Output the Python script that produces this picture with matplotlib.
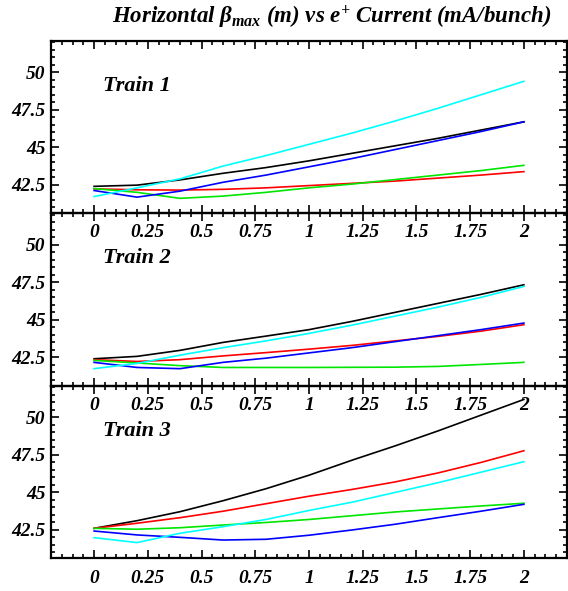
import matplotlib
matplotlib.use("Agg")
import matplotlib.pyplot as plt
from matplotlib.ticker import MultipleLocator, FuncFormatter

# beam current (mA/bunch)
current = [0.0, 0.2, 0.4, 0.6, 0.8, 1.0, 1.2, 1.4, 1.6, 1.8, 2.0]

# horizontal beta max (m) for each train, one list per curve
train1_black = [42.40, 42.48, 42.83, 43.27, 43.65, 44.10, 44.60, 45.10, 45.60, 46.15, 46.70]
train1_red   = [42.23, 42.17, 42.15, 42.20, 42.30, 42.45, 42.60, 42.75, 42.95, 43.15, 43.38]
train1_green = [42.25, 42.00, 41.60, 41.75, 42.00, 42.30, 42.55, 42.85, 43.15, 43.45, 43.80]
train1_blue  = [42.12, 41.68, 42.08, 42.67, 43.15, 43.70, 44.25, 44.85, 45.45, 46.05, 46.70]
train1_cyan  = [41.72, 42.30, 42.90, 43.75, 44.45, 45.20, 45.95, 46.75, 47.60, 48.50, 49.40]

train2_black = [42.41, 42.57, 42.97, 43.50, 43.92, 44.35, 44.90, 45.50, 46.10, 46.70, 47.34]
train2_red   = [42.35, 42.23, 42.35, 42.60, 42.82, 43.05, 43.30, 43.60, 43.90, 44.25, 44.68]
train2_green = [42.30, 42.13, 41.95, 41.83, 41.83, 41.83, 41.84, 41.85, 41.90, 42.03, 42.17]
train2_blue  = [42.17, 41.83, 41.75, 42.17, 42.45, 42.80, 43.15, 43.55, 43.95, 44.35, 44.79]
train2_cyan  = [41.75, 42.10, 42.65, 43.15, 43.60, 44.10, 44.65, 45.25, 45.85, 46.50, 47.23]

train3_black = [42.61, 43.12, 43.72, 44.45, 45.25, 46.15, 47.15, 48.10, 49.10, 50.15, 51.20]
train3_red   = [42.61, 42.95, 43.32, 43.75, 44.25, 44.75, 45.20, 45.70, 46.30, 47.00, 47.78]
train3_green = [42.61, 42.55, 42.65, 42.83, 43.00, 43.20, 43.45, 43.70, 43.90, 44.10, 44.28]
train3_blue  = [42.43, 42.17, 42.01, 41.83, 41.88, 42.15, 42.50, 42.88, 43.32, 43.75, 44.21]
train3_cyan  = [41.99, 41.66, 42.28, 42.72, 43.20, 43.80, 44.35, 45.00, 45.65, 46.35, 47.05]

trains = ["Train 1", "Train 2", "Train 3"]
series = [
    [train1_black, train1_red, train1_green, train1_blue, train1_cyan],
    [train2_black, train2_red, train2_green, train2_blue, train2_cyan],
    [train3_black, train3_red, train3_green, train3_blue, train3_cyan],
]
colors = ["black", "red", "#00e600", "blue", "cyan"]

plt.rcParams['font.family'] = ['Liberation Serif', 'DejaVu Serif']
plt.rcParams['font.weight'] = 'bold'
plt.rcParams['font.style'] = 'italic'
plt.rcParams['mathtext.fontset'] = 'custom'
plt.rcParams['mathtext.rm'] = 'Liberation Serif'
plt.rcParams['mathtext.it'] = 'Liberation Serif:italic:bold'
plt.rcParams['mathtext.bf'] = 'Liberation Serif:bold'

fig, axes = plt.subplots(3, 1, figsize=(5.68, 5.91), dpi=100)
fig.subplots_adjust(left=0.09, right=0.998, top=0.931, bottom=0.055, hspace=0)

fmt = FuncFormatter(lambda v, pos: "%g" % v)

for ax, name, curves in zip(axes, trains, series):
    for y, c in zip(curves, colors):
        ax.plot(current, y, color=c, lw=1.2)
    ax.set_xlim(-0.2, 2.2)
    ax.set_ylim(40.6, 52.1)
    ax.xaxis.set_major_locator(MultipleLocator(0.25))
    ax.xaxis.set_minor_locator(MultipleLocator(0.05))
    ax.yaxis.set_minor_locator(MultipleLocator(0.5))
    ax.xaxis.set_major_formatter(fmt)
    ax.yaxis.set_major_formatter(fmt)
    ax.set_yticks([42.5, 45, 47.5, 50])
    ax.tick_params(which='both', direction='in', top=True, right=True, width=1.2)
    ax.tick_params(which='major', length=5.5, labelsize=14)
    ax.tick_params(which='minor', length=3)
    ax.tick_params(axis='x', pad=8)
    ax.tick_params(axis='y', pad=4)
    for s in ax.spines.values():
        s.set_linewidth(1.6)
    ax.text(0.04, 49.1, name, fontsize=16, fontweight='bold', style='italic', va='center')
    ax.patch.set_alpha(0)

fig.text(0.583, 0.971, r"Horizontal $\mathrm{\beta}_{max}$ (m) vs e$^{+}$ Current (mA/bunch)",
         fontsize=16.5, fontweight='bold', style='italic', ha='center', va='center')

fig.savefig("out.png", dpi=100)
